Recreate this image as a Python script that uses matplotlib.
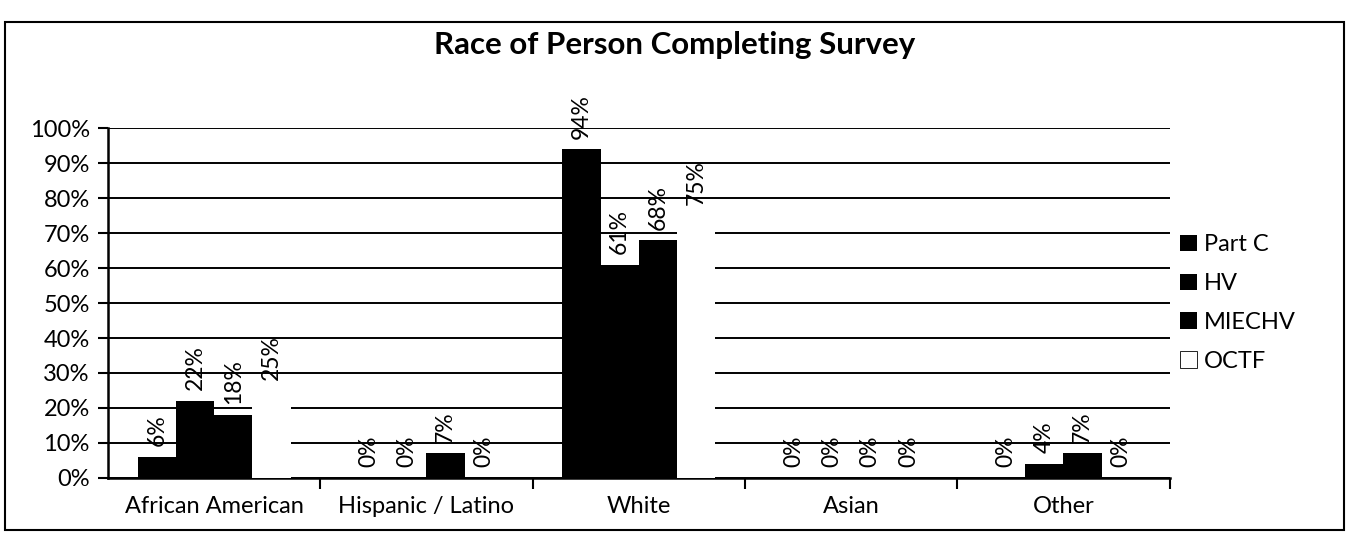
import matplotlib.pyplot as plt
import numpy as np
from matplotlib.patches import Rectangle

# Survey results by respondent race, share per program
categories = ["African American", "Hispanic / Latino", "White", "Asian", "Other"]
series = ["Part C", "HV", "MIECHV", "OCTF"]
part_c = [6, 0, 94, 0, 0]
hv = [22, 0, 61, 0, 4]
miechv = [18, 7, 68, 0, 7]
octf = [25, 0, 75, 0, 0]

FONT = "Lato"
plt.rcParams["font.family"] = [FONT, "DejaVu Sans"]

fig = plt.figure(figsize=(13.49, 5.34), dpi=100)
ax = fig.add_axes([0.080, 0.105, 0.787, 0.655])

x = np.arange(len(categories))
width = 0.18
colors = ["black", "black", "black", "white"]
values = [part_c, hv, miechv, octf]

for i, (name, vals, col) in enumerate(zip(series, values, colors)):
    pos = x + (i - 1.5) * width
    bars = ax.bar(pos, vals, width, color=col, label=name, zorder=3,
                  edgecolor="none")
    for b, v in zip(bars, vals):
        ax.text(b.get_x() + b.get_width() / 2, v + 3, f"{v}%",
                rotation=90, ha="center", va="bottom", fontsize=16.5, zorder=4)

ax.set_xlim(-0.5, len(categories) - 0.5)
ax.set_ylim(0, 100)
ax.set_yticks(range(0, 101, 10))
ax.set_yticklabels([f"{t}%" for t in range(0, 101, 10)], fontsize=17)
ax.yaxis.grid(True, color="black", linewidth=1.4, zorder=0)
ax.set_axisbelow(True)

# category labels centred, tick marks at the group boundaries
ax.set_xticks(x)
ax.set_xticklabels(categories, fontsize=17)
ax.tick_params(axis="x", length=0, pad=13)
ax.set_xticks(np.arange(0.5, len(categories), 1.0), minor=True)
ax.tick_params(axis="x", which="minor", length=8, width=1.5, direction="out")
ax.tick_params(axis="y", length=7, width=1.5, direction="out", pad=6)

for side in ["top", "right"]:
    ax.spines[side].set_visible(False)
ax.spines["left"].set_linewidth(1.8)
ax.spines["bottom"].set_linewidth(1.8)

fig.text(0.50, 0.915, "Race of Person Completing Survey", ha="center",
         va="center", fontsize=22.5, fontweight="bold")

leg = ax.legend(loc="center left", bbox_to_anchor=(0.99, 0.50), frameon=False,
                fontsize=17, handlelength=0.7, handleheight=0.7,
                labelspacing=0.75, handletextpad=0.3)
leg.get_patches()[3].set_edgecolor("black")
leg.get_patches()[3].set_linewidth(0.6)

# outer frame around the chart area
fig.patches.append(Rectangle((0.004, 0.008), 0.992, 0.95, transform=fig.transFigure,
                             fill=False, edgecolor="black", linewidth=1.5))

fig.savefig("out.png", dpi=100, facecolor="white")
